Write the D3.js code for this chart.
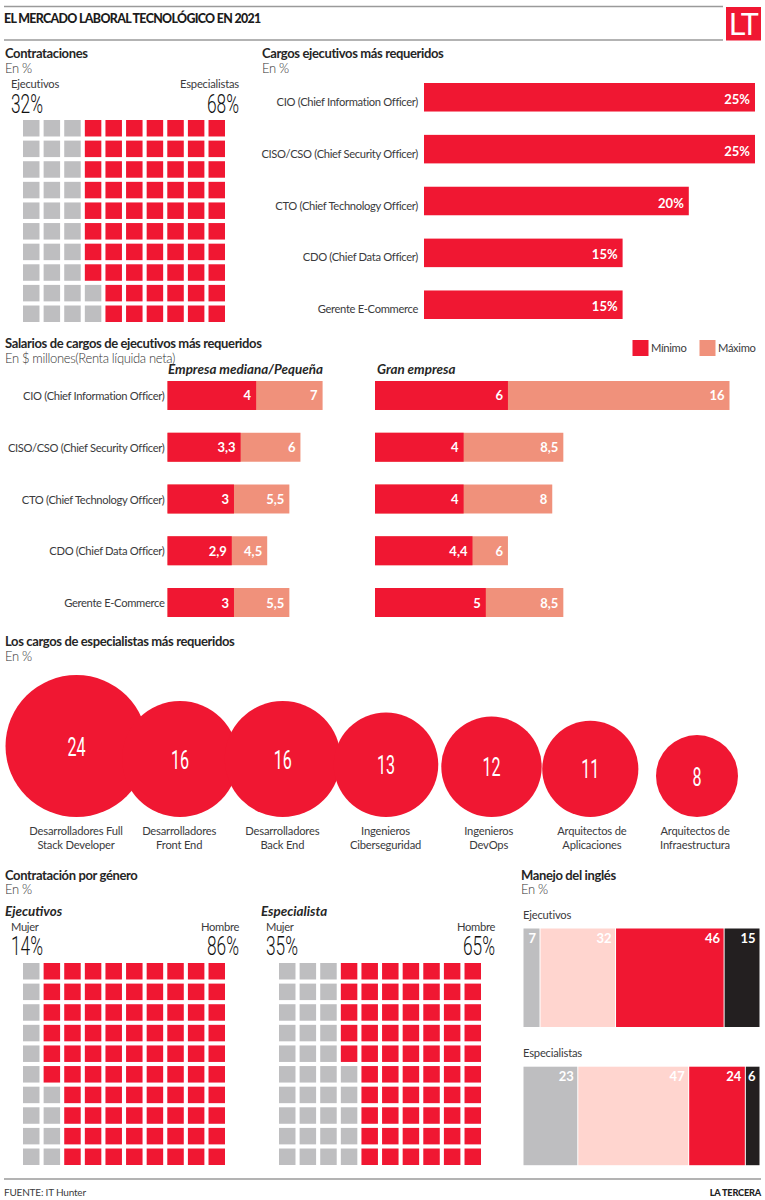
<!DOCTYPE html>
<html lang="es">
<head>
<meta charset="utf-8">
<title>El mercado laboral tecnológico en 2021</title>
<script src="https://cdn.jsdelivr.net/npm/d3@7/dist/d3.min.js"></script>
<style>
html,body{margin:0;padding:0;background:#fff}
svg{display:block}
text{font-family:Lato,"Open Sans",sans-serif;fill:#3b3b3d}
.h{font-weight:700;font-size:13px;letter-spacing:-.37px;fill:#262626}
.sub{font-size:13px;letter-spacing:-.35px;font-weight:300;fill:#333}
.lab{font-size:11.2px;letter-spacing:-.33px}
.lab2{font-size:11.2px;letter-spacing:-.2px}
.ital{font-weight:700;font-style:italic;font-size:13.4px;fill:#262626}
.val{font-weight:700;font-size:13px;fill:#fff}
.cond{font-family:Roboto,sans-serif;font-weight:300;fill:#111}
</style>
</head>
<body>
<div id="chart"></div>
<script>
const execCategories = ["CIO (Chief Information Officer)","CISO/CSO (Chief Security Officer)","CTO (Chief Technology Officer)","CDO (Chief Data Officer)","Gerente E-Commerce"];
const execShare = [25,25,20,15,15];
const midMin = [4,3.3,3,2.9,3];
const midMax = [7,6,5.5,4.5,5.5];
const bigMin = [6,4,4,4.4,5];
const bigMax = [16,8.5,8,6,8.5];
const specialistNames = [["Desarrolladores Full","Stack Developer"],["Desarrolladores","Front End"],["Desarrolladores","Back End"],["Ingenieros","Ciberseguridad"],["Ingenieros","DevOps"],["Arquitectos de","Aplicaciones"],["Arquitectos de","Infraestructura"]];
const specialistValues = [24,16,16,13,12,11,8];
const hiringLabels = ["Ejecutivos","Especialistas"];
const hiringValues = [32,68];
const genderLabels = ["Mujer","Hombre"];
const genderExec = [14,86];
const genderSpec = [35,65];
const englishExec = [7,32,46,15];
const englishSpec = [23,47,24,6];

const RED="#F01732", SALMON="#F0917B", GRAY="#BEBEC0", PINK="#FFD5CF", BLACK="#231F20", RULE="#9a9a9a";
const svg = d3.select("#chart").append("svg").attr("width",765).attr("height",1200).attr("viewBox","0 0 765 1200");
const T=(x,y,s,c,a)=>svg.append("text").attr("x",x).attr("y",y).attr("class",c).attr("text-anchor",a||"start").text(s);
const fmt=v=>String(v).replace(".",",");

// Header and footer
[[4,723,6.5],[4,723,40],[4,761,1179]].forEach(r=>svg.append("line").attr("x1",r[0]).attr("x2",r[1]).attr("y1",r[2]).attr("y2",r[2]).attr("stroke",RULE).attr("stroke-width",1.3));
T(4,22.5,"EL MERCADO LABORAL TECNOLÓGICO EN 2021","").style("font-weight",900).style("font-size","12.4px").style("letter-spacing","-.66px").style("fill","#1c1c1c");
svg.append("rect").attr("x",726).attr("y",7).attr("width",35).attr("height",33.5).attr("fill",RED);
T(743.5,35,"LT","cond","middle").style("font-size","31px").style("fill","#fff").style("font-weight",400).style("letter-spacing","-1px");
T(4,1196,"FUENTE: IT Hunter","").style("font-size","10px").style("letter-spacing","-.2px");
T(761,1196,"LA TERCERA","","end").style("font-size","9.2px").style("font-weight",900).style("letter-spacing","-.2px").style("fill","#222");

function bigPct(x,y,v,anchor){
  return svg.append("text").attr("class","cond").attr("text-anchor",anchor)
    .attr("transform",`translate(${x},${y}) scale(.68,1)`).style("font-size","25.5px").text(v+"%");
}
function waffle(x0,y0,value){
  const x=d3.scaleBand().domain(d3.range(10)).range([x0,x0+202]).paddingInner(.2);
  const y=d3.scaleBand().domain(d3.range(10)).range([y0,y0+202]).paddingInner(.2);
  const cells=d3.range(100).map(i=>({c:Math.floor(i/10),r:9-i%10,i}));
  svg.append("g").selectAll("rect").data(cells).join("rect")
    .attr("x",d=>x(d.c)).attr("y",d=>y(d.r)).attr("width",x.bandwidth()).attr("height",y.bandwidth())
    .attr("fill",d=>d.i<value?GRAY:RED);
}
function head(x,y,title,sub){T(x,y,title,"h");T(x,y+14.5,sub,"sub");}

// Contrataciones
head(5,58,"Contrataciones","En %");
T(11,88,hiringLabels[0],"lab2");
T(239,88,hiringLabels[1],"lab2","end");
bigPct(11,112.5,hiringValues[0],"start");
bigPct(239,112.5,hiringValues[1],"end");
waffle(23,120,hiringValues[0]);

// Cargos ejecutivos
head(262,58,"Cargos ejecutivos más requeridos","En %");
const xExec=d3.scaleLinear().domain([0,25]).range([424,755]);
const yExec=d3.scaleBand().domain(execCategories).range([83,319]).paddingInner(.45);
const execG=svg.append("g");
execG.selectAll("rect").data(execCategories).join("rect")
  .attr("x",xExec(0)).attr("y",d=>yExec(d)).attr("height",yExec.bandwidth())
  .attr("width",(d,i)=>xExec(execShare[i])-xExec(0)).attr("fill",RED);
execG.selectAll("text.lab").data(execCategories).join("text").attr("class","lab")
  .attr("x",418).attr("y",d=>yExec(d)+yExec.bandwidth()/2+8.5).attr("text-anchor","end").text(d=>d);
execG.selectAll("text.val").data(execCategories).join("text").attr("class","val")
  .attr("x",(d,i)=>xExec(execShare[i])-5).attr("y",d=>yExec(d)+yExec.bandwidth()/2+6.5).attr("text-anchor","end").text((d,i)=>execShare[i]+"%");

// Salarios
T(5,348,"Salarios de cargos de ejecutivos más requeridos","h");
T(5,362.5,"En $ millones(Renta líquida neta)","sub");
T(168,374,"Empresa mediana/Pequeña","ital");
T(377,374,"Gran empresa","ital");
svg.append("rect").attr("x",632.5).attr("y",340).attr("width",16).attr("height",16).attr("fill",RED);
T(651,352,"Mínimo","lab");
svg.append("rect").attr("x",699.5).attr("y",340).attr("width",16).attr("height",16).attr("fill",SALMON);
T(718,352,"Máximo","lab");
const ySal=d3.scaleBand().domain(execCategories).range([381,617]).paddingInner(.44);
function salary(x0,mins,maxs){
  const x=d3.scaleLinear().domain([0,16]).range([x0,x0+354.5]);
  const g=svg.append("g");
  g.selectAll("rect.max").data(execCategories).join("rect").attr("class","max")
    .attr("x",x(0)).attr("y",d=>ySal(d)).attr("height",ySal.bandwidth())
    .attr("width",(d,i)=>x(maxs[i])-x(0)).attr("fill",SALMON);
  g.selectAll("rect.min").data(execCategories).join("rect").attr("class","min")
    .attr("x",x(0)).attr("y",d=>ySal(d)).attr("height",ySal.bandwidth())
    .attr("width",(d,i)=>x(mins[i])-x(0)).attr("fill",RED);
  [[mins,"a"],[maxs,"b"]].forEach(([vals,k])=>{
    g.selectAll("text.v"+k).data(execCategories).join("text").attr("class","val v"+k)
      .attr("x",(d,i)=>x(vals[i])-5).attr("y",d=>ySal(d)+ySal.bandwidth()/2+5).attr("text-anchor","end").text((d,i)=>fmt(vals[i]));
  });
}
svg.append("g").selectAll("text").data(execCategories).join("text").attr("class","lab")
  .attr("x",164.5).attr("y",d=>ySal(d)+ySal.bandwidth()/2+4.5).attr("text-anchor","end").text(d=>d);
salary(167.5,midMin,midMax);
salary(375,bigMin,bigMax);

// Especialistas
head(5,646,"Los cargos de especialistas más requeridos","En %");
const rS=d3.scaleSqrt().domain([0,24]).range([0,71]);
const xS=d3.scaleOrdinal().domain(d3.range(7)).range([76.5,180,282.7,386,491.5,590.3,697]);
const xL=d3.scalePoint().domain(d3.range(7)).range([76,695]);
const bottom=817;
const spec=svg.append("g");
specialistValues.forEach((v,i)=>{
  const r=rS(v);
  spec.append("circle").attr("cx",xS(i)).attr("cy",bottom-r).attr("r",r).attr("fill",RED);
});
specialistValues.forEach((v,i)=>{
  const r=rS(v);
  spec.append("text").attr("text-anchor","middle").attr("transform",`translate(${xS(i)},${bottom-r+9.5}) scale(.62,1)`)
    .attr("class","cond").style("font-size","26px").style("fill","#fff").style("font-weight",400).text(v);
  spec.append("text").attr("class","lab2").attr("x",xL(i)).attr("y",835).attr("text-anchor","middle").text(specialistNames[i][0]);
  spec.append("text").attr("class","lab2").attr("x",xL(i)).attr("y",848.5).attr("text-anchor","middle").text(specialistNames[i][1]);
});

// Género
head(5,879.5,"Contratación por género","En %");
T(5,916,"Ejecutivos","ital");
T(11,931,genderLabels[0],"lab");
T(239,931,genderLabels[1],"lab","end");
bigPct(11,955,genderExec[0],"start");
bigPct(239,955,genderExec[1],"end");
waffle(23,963,genderExec[0]);
T(261,916,"Especialista","ital");
T(266,931,genderLabels[0],"lab");
T(495,931,genderLabels[1],"lab","end");
bigPct(266,955,genderSpec[0],"start");
bigPct(495,955,genderSpec[1],"end");
waffle(279,963,genderSpec[0]);

// Inglés
head(521,879.5,"Manejo del inglés","En %");
T(523,919,"Ejecutivos","lab2");
T(523,1057,"Especialistas","lab2");
const xE=d3.scaleLinear().domain([0,100]).range([523.5,759.5]);
const engColors=[GRAY,PINK,RED,BLACK];
function english(vals,y0,h){
  const ends=d3.cumsum(vals);
  const g=svg.append("g");
  g.selectAll("rect").data(vals).join("rect")
    .attr("x",(d,i)=>xE(ends[i]-d)+(i?.5:0)).attr("y",y0)
    .attr("width",(d,i)=>xE(ends[i])-xE(ends[i]-d)-(i?.5:0)-(i<3?.5:0)).attr("height",h)
    .attr("fill",(d,i)=>engColors[i]);
  g.selectAll("text").data(vals).join("text").attr("class","val")
    .attr("x",(d,i)=>xE(ends[i])-4).attr("y",y0+14.5).attr("text-anchor","end").text(d=>d);
}
english(englishExec,928.5,98.5);
english(englishSpec,1066.7,98.5);
</script>
</body>
</html>
